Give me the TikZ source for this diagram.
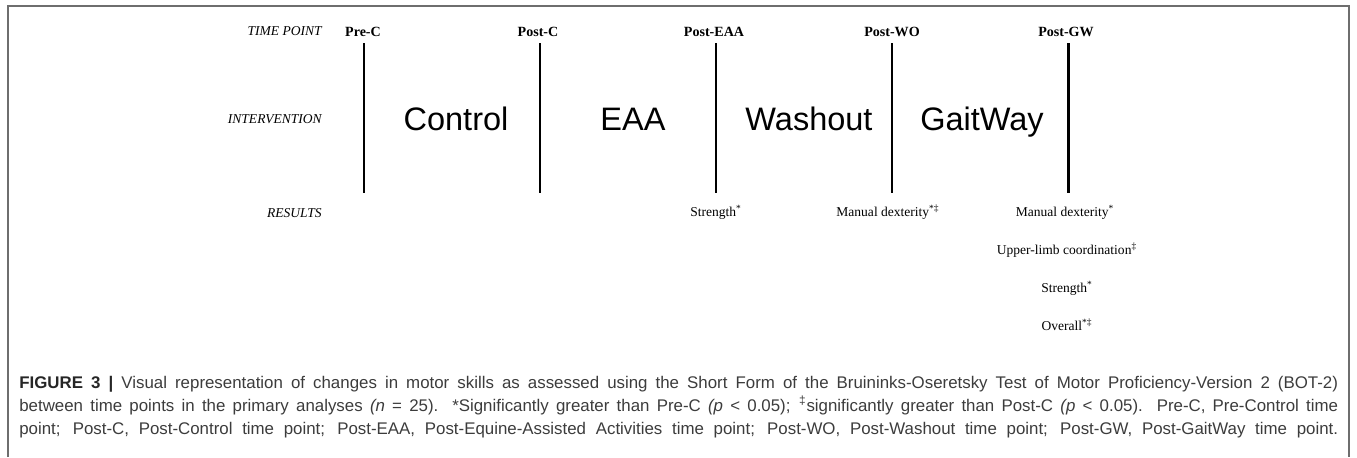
\documentclass[tikz,border=0pt]{standalone}
\usepackage{fontspec}
\setmainfont{Liberation Serif}
\newfontfamily\arialfont{Liberation Sans}
\definecolor{framegray}{HTML}{6E6E6E}
\definecolor{captiongray}{HTML}{3C3C3C}
\begin{document}
\begin{tikzpicture}[x=0.02cm,y=-0.02cm,
	rowlabel/.style={anchor=base east,inner sep=0pt},
	timelabel/.style={anchor=base,inner sep=0pt},
	phaselabel/.style={anchor=base,inner sep=0pt},
	resultlabel/.style={anchor=base,inner sep=0pt},
	timeline/.style={line width=1.7pt},
	frameline/.style={draw=framegray,line width=1.1pt},
	capline/.style={anchor=base west,inner sep=0pt,text=captiongray,font={\arialfont\fontsize{9.6}{13}\selectfont}}]
			\newcommand{\myfontrow}[1]{
				\fontsize{7.7}{9}\selectfont\itshape{#1}
			}\newcommand{\myfonttime}[1]{
				\fontsize{8}{9}\selectfont\bfseries{#1}
			}\newcommand{\myfontphase}[1]{
				\fontsize{18.5}{20}\selectfont\arialfont{#1}
			}\newcommand{\myfontresult}[1]{
				\fontsize{7.7}{9}\selectfont{#1}
			}%Page size
			\useasboundingbox (0,0) rectangle (1357,457);
			%Outer frame, open at the bottom
			\coordinate (frameBL) at (8,457);
			\coordinate (frameTL) at (8,6);
			\coordinate (frameTR) at (1349,6);
			\coordinate (frameBR) at (1349,457);
			\draw[frameline] (frameBL) -- (frameTL) -- (frameTR) -- (frameBR);
			%Row titles on the left
			\coordinate (rowTime) at (322,35);
			\coordinate (rowInt) at (322,123);
			\coordinate (rowRes) at (322,217);
			\node [rowlabel] (titleTime) at (rowTime) {\myfontrow{TIME POINT}};
			\node [rowlabel] (titleInt) at (rowInt) {\myfontrow{INTERVENTION}};
			\node [rowlabel] (titleRes) at (rowRes) {\myfontrow{RESULTS}};
			%Vertical lines of the time points
			\foreach \i/\x in {0/364,1/540,2/716,3/892,4/1068} {
				\coordinate (top\i) at (\x,43);
				\coordinate (bot\i) at (\x,193);
				\draw[timeline] (top\i) -- (bot\i);
			}
			%Names of the time points
			\foreach \i/\x/\t in {0/363/Pre-C,1/538/Post-C,2/714/Post-EAA,3/892/Post-WO,4/1066/Post-GW} {
				\coordinate (tp\i) at (\x,36);
				\node [timelabel] (time\i) at (tp\i) {\myfonttime{\t}};
			}
			%Interventions between the lines
			\coordinate (int0) at (456,130);
			\coordinate (int1) at (633,130);
			\coordinate (int2) at (809,130);
			\coordinate (int3) at (982,130);
			\node [phaselabel] (control) at (int0) {\myfontphase{Control}};
			\node [phaselabel] (eaa) at (int1) {\myfontphase{EAA}};
			\node [phaselabel] (washout) at (int2) {\myfontphase{Washout}};
			\node [phaselabel] (gaitway) at (int3) {\myfontphase{GaitWay}};
			% Results under the lines
			%results Post-EAA
			\coordinate (res20) at (716,216);
			\node [resultlabel] (resEAA) at (res20) {\myfontresult{Strength\textsuperscript{*}}};
			%results Post-WO
			\coordinate (res30) at (888,216);
			\node [resultlabel] (resWO) at (res30) {\myfontresult{Manual dexterity\textsuperscript{*‡}}};
			%results Post-GW
			\coordinate (res40) at (1065,216);
			\coordinate (res41) at (1067,254);
			\coordinate (res42) at (1067,292);
			\coordinate (res43) at (1067,330);
			\node [resultlabel] (resGWa) at (res40) {\myfontresult{Manual dexterity\textsuperscript{*}}};
			\node [resultlabel] (resGWb) at (res41) {\myfontresult{Upper-limb coordination\textsuperscript{‡}}};
			\node [resultlabel] (resGWc) at (res42) {\myfontresult{Strength\textsuperscript{*}}};
			\node [resultlabel] (resGWd) at (res43) {\myfontresult{Overall\textsuperscript{*‡}}};
			%Caption, one node for each line
			\coordinate (cap0) at (19,388);
			\coordinate (cap1) at (19,411);
			\coordinate (cap2) at (19,434);
			\node [capline] (capLine0) at (cap0) {\makebox[26.38cm][s]{{\color{black!85}\bfseries FIGURE 3 |} Visual representation of changes in motor skills as assessed using the Short Form of the Bruininks-Oseretsky Test of Motor Proficiency-Version 2 (BOT-2)}};
			\node [capline] (capLine1) at (cap1) {\makebox[26.38cm][s]{between time points in the primary analyses {\itshape (n} = 25). *Significantly greater than Pre-C {\itshape (p} < 0.05); \textsuperscript{‡}significantly greater than Post-C {\itshape (p} < 0.05). Pre-C, Pre-Control time}};
			\node [capline] (capLine2) at (cap2) {\makebox[26.38cm][s]{point; Post-C, Post-Control time point; Post-EAA, Post-Equine-Assisted Activities time point; Post-WO, Post-Washout time point; Post-GW, Post-GaitWay time point.}};
			\end{tikzpicture}
\end{document}
